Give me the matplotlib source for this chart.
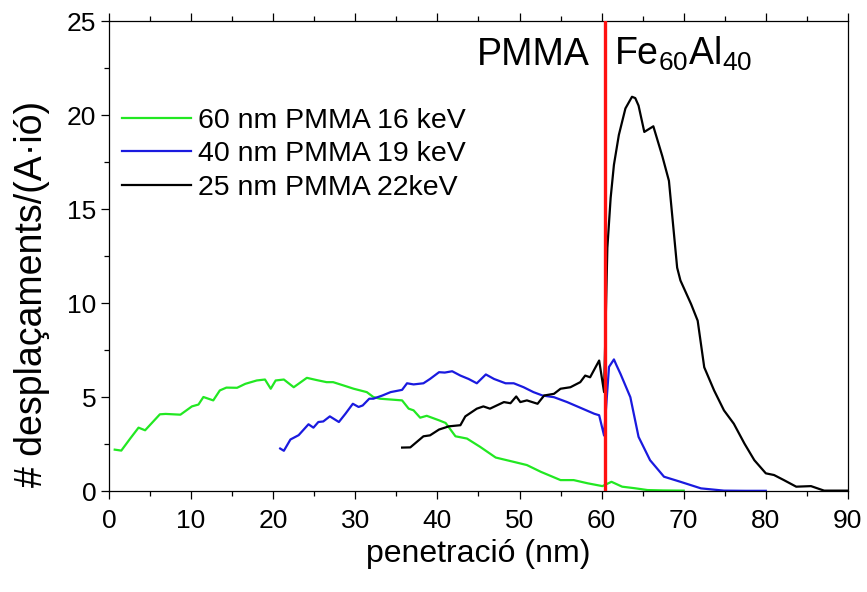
import matplotlib
matplotlib.use("Agg")
import matplotlib.pyplot as plt

plt.rcParams['font.family'] = ['Liberation Sans', 'DejaVu Sans']
plt.rcParams['mathtext.default'] = 'regular'

green_x = [0.7,1.5,2.6,3.6,4.4,6.2,6.9,8.7,10.1,10.9,11.5,12.7,13.5,14.3,15.6,16.6,18.0,19.0,19.7,20.3,21.3,22.5,24.1,25.3,26.5,27.3,28.6,29.8,31.4,32.2,33.0,35.7,36.5,37.1,37.9,38.7,40.2,41.0,42.2,43.6,45.2,47.1,49.3,50.9,52.6,55.0,56.6,58.3,60.1,61.2,62.5,64.0,65.6,67.5,70.0]
green_y = [2.2,2.15,2.8,3.37,3.23,4.08,4.1,4.06,4.5,4.6,5.0,4.82,5.35,5.5,5.49,5.7,5.88,5.93,5.44,5.88,5.93,5.52,6.02,5.9,5.79,5.79,5.61,5.44,5.26,5.0,4.91,4.82,4.38,4.29,3.9,4.0,3.76,3.62,2.91,2.79,2.35,1.78,1.55,1.38,1.02,0.58,0.58,0.41,0.26,0.49,0.23,0.15,0.05,0.03,0.02]

blue_x = [20.85,21.3,22.1,23.1,24.3,24.9,25.5,26.1,26.9,28.0,28.8,29.7,30.4,30.9,31.7,32.2,33.3,34.3,35.7,36.3,37.1,38.3,39.1,40.2,40.9,41.8,42.8,43.8,44.8,45.9,46.9,48.3,49.3,50.5,51.7,52.8,54.2,55.8,57.4,59.1,59.7,60.3,60.9,61.5,61.8,62.3,63.5,64.5,65.9,67.6,69.6,72.1,74.9,77.5,80.0]
blue_y = [2.26,2.14,2.74,2.97,3.55,3.37,3.67,3.7,3.97,3.67,4.11,4.64,4.47,4.55,4.91,4.91,5.08,5.26,5.38,5.73,5.67,5.73,5.96,6.32,6.3,6.37,6.14,5.96,5.73,6.2,5.96,5.73,5.73,5.52,5.26,5.08,4.99,4.73,4.43,4.11,4.03,2.95,6.6,7.0,6.7,6.23,4.99,2.88,1.64,0.76,0.49,0.14,0.02,0.01,0.01]

black_x = [35.7,36.7,38.3,39.1,40.2,41.4,42.8,43.4,44.8,45.6,46.4,48.1,48.9,49.6,50.1,50.9,52.2,53.0,54.2,55.0,56.2,57.4,58.0,58.6,59.7,60.3,60.7,61.1,61.5,62.1,62.9,63.7,64.1,64.5,65.2,66.3,67.4,68.2,69.2,69.6,70.9,71.7,72.5,73.7,74.9,76.1,77.4,78.6,80.0,81.0,82.2,83.7,85.5,87.1,90.0]
black_y = [2.31,2.32,2.91,2.96,3.27,3.44,3.5,3.97,4.38,4.5,4.38,4.73,4.67,5.03,4.73,4.82,4.64,5.08,5.17,5.44,5.52,5.79,6.14,6.05,6.94,5.26,12.94,15.59,17.35,18.94,20.35,20.97,20.9,20.5,19.1,19.4,17.8,16.5,11.88,11.2,9.94,9.06,6.58,5.35,4.29,3.58,2.52,1.64,0.94,0.85,0.58,0.23,0.26,0.02,0.02]

labels = ["60 nm PMMA 16 keV", "40 nm PMMA 19 keV", "25 nm PMMA 22keV"]
interface_x = 60.4
x_ticks = [0, 10, 20, 30, 40, 50, 60, 70, 80, 90]
y_ticks = [0, 5, 10, 15, 20, 25]

fig = plt.figure(figsize=(8.67, 5.92), dpi=100)
ax = fig.add_axes([0.1257, 0.1706, 0.8523, 0.7939])

ax.plot(green_x, green_y, color='#22e822', lw=1.6, label=labels[0])
ax.plot(blue_x, blue_y, color='#1a1adf', lw=1.6, label=labels[1])
ax.plot(black_x, black_y, color='black', lw=1.6, label=labels[2])
ax.axvline(interface_x, color='#ff1010', lw=2.4, zorder=5)

ax.set_xlim(0, 90)
ax.set_ylim(0, 25)
ax.set_xticks(x_ticks)
ax.set_yticks(y_ticks)
ax.set_xticks(range(5, 90, 10), minor=True)
ax.set_yticks([2.5, 7.5, 12.5, 17.5, 22.5], minor=True)
ax.tick_params(axis='both', which='both', direction='out', labelsize=19, width=0.9)
ax.tick_params(which='major', length=6)
ax.tick_params(which='minor', length=3.5)
ax.tick_params(axis='x', which='major', pad=7)
ax.tick_params(axis='y', which='major', pad=3)
ax.tick_params(axis='x', which='both', top=True, labeltop=False)
for s in ax.spines.values():
    s.set_linewidth(0.9)

ax.set_xlabel("penetració (nm)", fontsize=23, labelpad=4)
ax.set_ylabel("# desplaçaments/(A·ió)", fontsize=27)
ax.yaxis.set_label_coords(-0.08, 0.42)

ax.text(0.651, 0.906, "PMMA", transform=ax.transAxes, fontsize=27, ha='right', va='baseline')
ax.text(0.683, 0.906, "Fe$_{60}$Al$_{40}$", transform=ax.transAxes, fontsize=27, ha='left', va='baseline')

leg = ax.legend(loc='upper left', bbox_to_anchor=(-0.005, 0.852), frameon=False, fontsize=20.5,
                handlelength=2.4, handletextpad=0.25, labelspacing=0.27, borderaxespad=0.2)

fig.savefig("out.png", dpi=100)
